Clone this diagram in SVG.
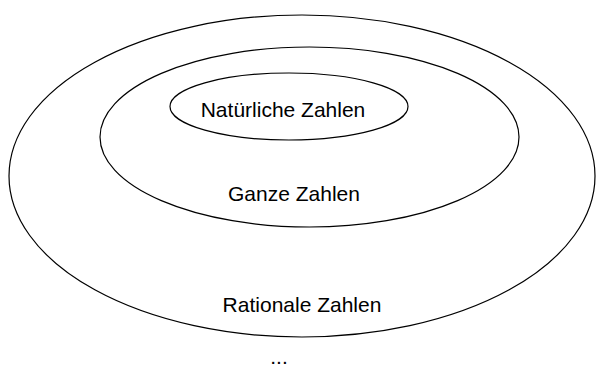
<svg xmlns="http://www.w3.org/2000/svg" width="600" height="369" viewBox="0 0 600 369">
<style>
.set{fill:none;stroke:#000;stroke-width:1.2}
.lbl{font-family:"Liberation Sans",Arial,sans-serif;font-size:21px;fill:#000;text-anchor:middle}
</style>
<rect width="600" height="369" fill="#fff"/>
<g id="rationale">
<ellipse class="set" cx="302" cy="176" rx="293" ry="161"/>
<text class="lbl" x="302" y="311.5">Rationale Zahlen</text>
</g>
<g id="ganze">
<ellipse class="set" cx="309.5" cy="137" rx="209.5" ry="90"/>
<text class="lbl" x="294" y="201">Ganze Zahlen</text>
</g>
<g id="natuerliche">
<ellipse class="set" cx="289" cy="106.5" rx="119" ry="33.5"/>
<text class="lbl" x="283" y="116.5">Natürliche Zahlen</text>
</g>
<g id="more">
<text class="lbl" x="279" y="364">...</text>
</g>
<g id="connectors"/>
</svg>
